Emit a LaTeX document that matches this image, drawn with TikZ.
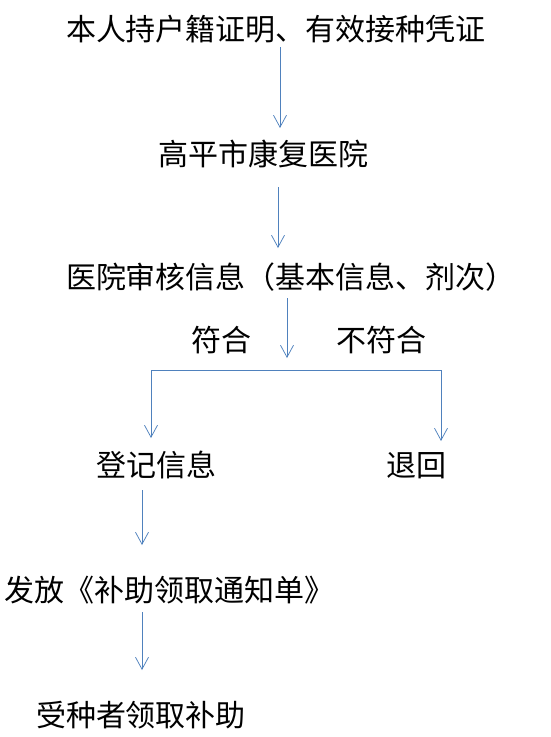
\documentclass[tikz,border=0pt]{standalone}
\usepackage{fontspec}
\newfontfamily\cjk{Noto Sans CJK SC}
\usetikzlibrary{arrows.meta}
\definecolor{arrblue}{HTML}{4F81BD}
\tikzset{
  lbl/.style={font=\cjk\fontsize{30pt}{30pt}\selectfont, inner sep=0pt, outer sep=0pt, text height=26pt, text depth=4pt, anchor=west, text=black},
  arr/.style={draw=arrblue, line width=0.75pt, -{Straight Barb[length=12pt,width=13pt,line width=0.75pt]}},
  ln/.style={draw=arrblue, line width=0.75pt}
}
\begin{document}
\begin{tikzpicture}[x=1pt,y=-1pt]
\useasboundingbox (0,0) rectangle (550,737);
\node[lbl] (t1) at (66,29) {本人持户籍证明、有效接种凭证};
\node[lbl] (t2) at (158,154) {高平市康复医院};
\node[lbl] (t3) at (66,277) {医院审核信息（基本信息、剂次）};
\node[lbl] (yes) at (191,340) {符合};
\node[lbl] (no) at (336,340) {不符合};
\node[lbl] (t4) at (96,465) {登记信息};
\node[lbl] (t5) at (386,465) {退回};
\node[lbl] (t6) at (5,590) {发放《补助领取通知单》};
\node[lbl] (t7) at (36,715) {受种者领取补助};
\coordinate (c1) at (280,0);
\coordinate (c2) at (278,0);
\coordinate (bm) at (287,370);
\coordinate (bl) at (151,370);
\coordinate (br) at (441,370);
\coordinate (c4) at (142,0);
\draw[arr] ([yshift=-3pt]t1.south -| c1) -- ([yshift=11pt]t2.north -| c1);
\draw[arr] ([yshift=-18pt]t2.south -| c2) -- ([yshift=14pt]t3.north -| c2);
\draw[arr] ([yshift=-6pt]t3.south -| bm) -- ([yshift=12pt]bm);
\draw[ln] (bl) -- (br);
\draw[arr] (bl) -- ([yshift=12pt]t4.north -| bl);
\draw[arr] (br) -- ([yshift=9pt]t5.north -| br);
\draw[arr] ([yshift=-10pt]t4.south -| c4) -- ([yshift=30pt]t6.north -| c4);
\draw[arr] ([yshift=-7pt]t6.south -| c4) -- ([yshift=30pt]t7.north -| c4);
\end{tikzpicture}
\end{document}
